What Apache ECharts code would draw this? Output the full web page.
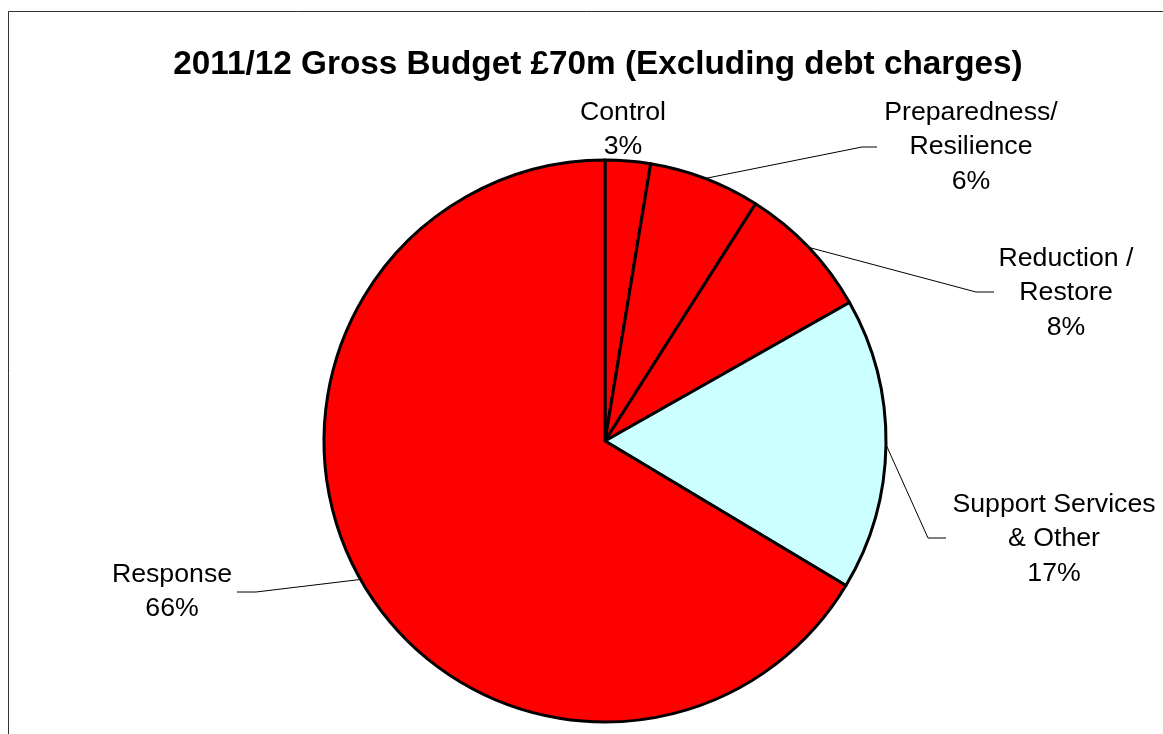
<!DOCTYPE html>
<html>
<head>
<meta charset="utf-8">
<script src="https://cdn.jsdelivr.net/npm/echarts@6/dist/echarts.min.js"></script>
<style>
html,body{margin:0;padding:0;background:#fff;}
#chart{width:1163px;height:734px;}
</style>
</head>
<body>
<div id="chart"></div>
<script>
const titleText = '2011/12 Gross Budget £70m (Excluding debt charges)';
const categories = ['Control', 'Preparedness/\nResilience', 'Reduction /\nRestore', 'Support Services\n& Other', 'Response'];
const values = [2.6, 6.4, 7.8, 16.8, 66.4];

const sliceColors = ['#FF0000', '#FF0000', '#FF0000', '#CCFFFF', '#FF0000'];
// label placement (layout only): centre x, middle y, elbow, end of leader
const labelPos = [
  { x: 623, y: 129.5, line: null },
  { x: 971, y: 147, line: [[862, 147], [877, 147]] },
  { x: 1066, y: 293, line: [[976, 292], [994, 292]] },
  { x: 1054, y: 539, line: [[928, 538], [946, 538]] },
  { x: 172, y: 591.5, line: [[256, 592], [237, 592]] }
];

const chart = echarts.init(document.getElementById('chart'));
const font = '"Liberation Sans", Arial, sans-serif';

chart.setOption({
  animation: false,
  backgroundColor: '#ffffff',
  title: {
    text: titleText,
    left: 593,
    top: 60,
    textAlign: 'center',
    textVerticalAlign: 'middle',
    textStyle: { fontFamily: font, fontWeight: 'bold', fontSize: 33.3, color: '#000' }
  },
  graphic: [{
    type: 'rect',
    shape: { x: 8.5, y: 11.5, width: 1200, height: 800 },
    style: { fill: 'none', stroke: '#333', lineWidth: 1 },
    silent: true
  }],
  series: [{
    type: 'pie',
    center: [605, 441],
    radius: 281,
    startAngle: 90,
    clockwise: true,
    avoidLabelOverlap: false,
    data: categories.map((name, i) => ({
      name: name,
      value: values[i],
      itemStyle: { color: sliceColors[i] },
      labelLine: { show: labelPos[i].line !== null }
    })),
    itemStyle: { borderColor: '#000', borderWidth: 3 },
    label: {
      show: true,
      fontFamily: font,
      fontSize: 26.7,
      lineHeight: 34.5,
      color: '#000',
      align: 'center',
      formatter: p => p.name + '\n' + Math.round(p.value) + '%'
    },
    labelLine: {
      show: true,
      length: 20,
      length2: 20,
      lineStyle: { color: '#000', width: 1 }
    },
    labelLayout: function (params) {
      const lp = labelPos[params.dataIndex];
      const res = { x: lp.x, y: lp.y, align: 'center', verticalAlign: 'middle' };
      if (lp.line && params.labelLinePoints && params.labelLinePoints.length) {
        res.labelLinePoints = [params.labelLinePoints[0], lp.line[0], lp.line[1]];
      }
      return res;
    },
    emphasis: { disabled: true }
  }]
});
</script>
</body>
</html>
